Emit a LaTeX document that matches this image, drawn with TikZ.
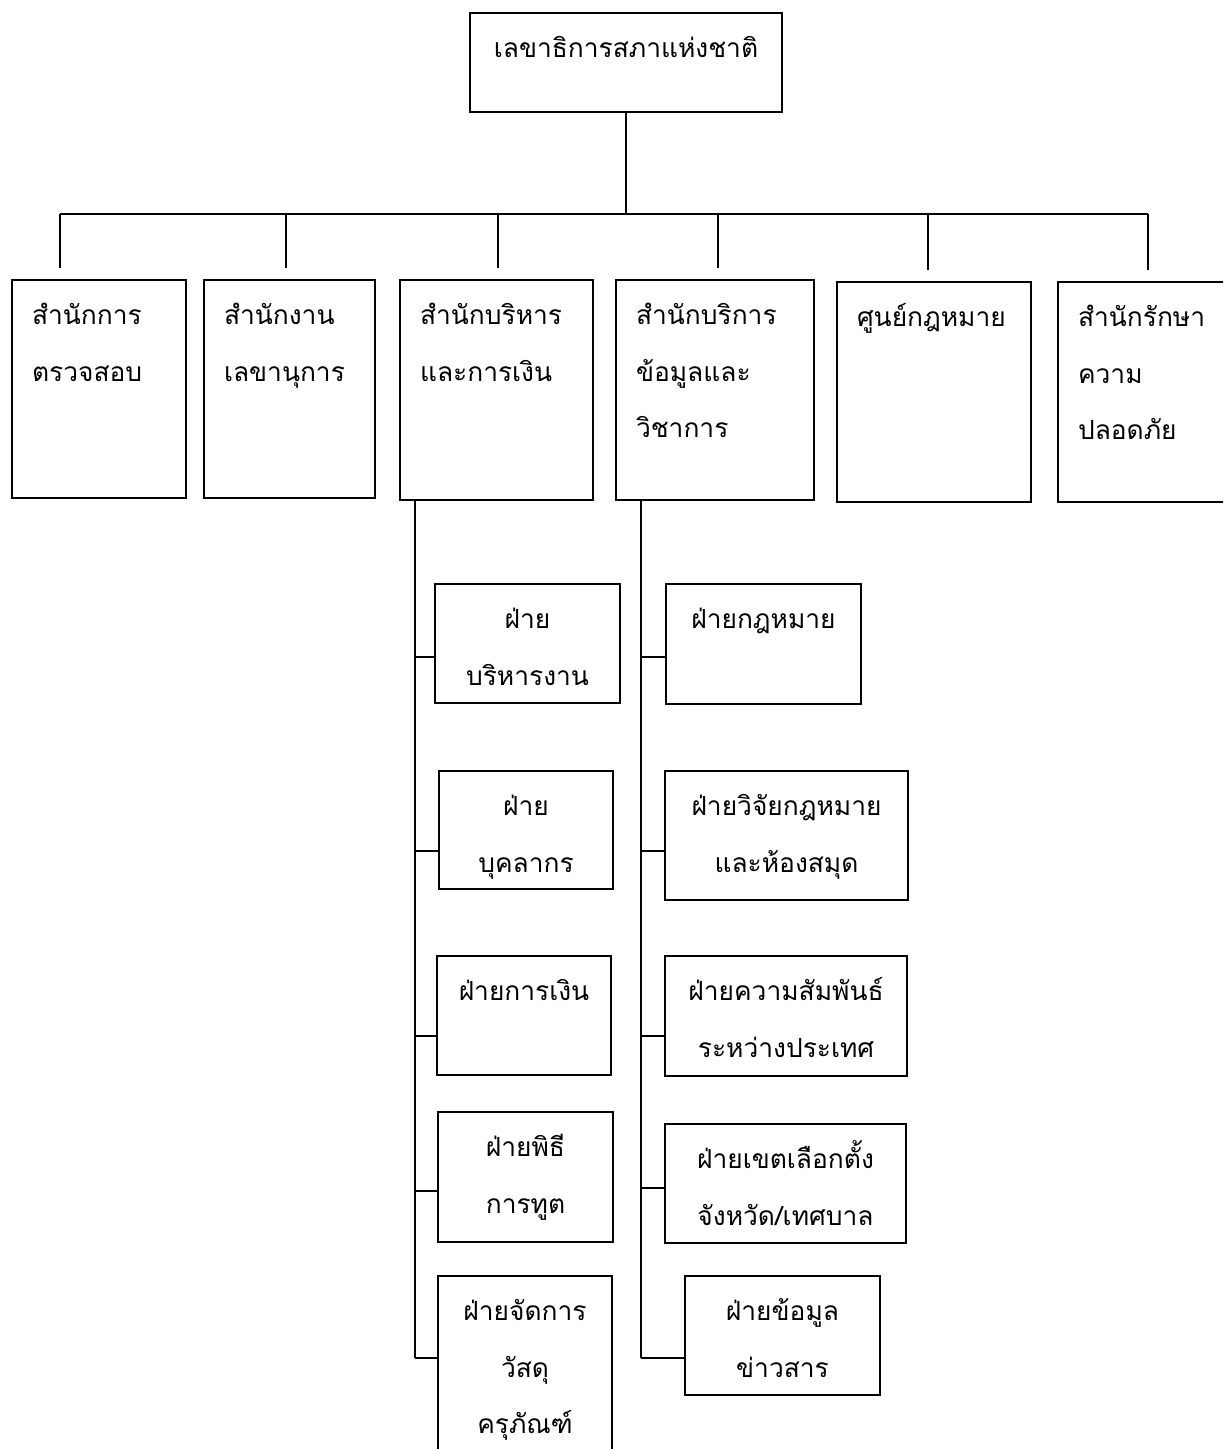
\documentclass[tikz,border=0pt]{standalone}
\usepackage{fontspec}
\usepackage{tikz}
\usetikzlibrary{fit}
\newfontfamily\thaifont[Script=Thai]{Loma}
\newcommand\office[4]{\node[obox,fit={#2 #3}] (#1) {}; \node[olabel] at ([shift={(20,46)}]#1.north west) {\begin{tabular}[t]{@{}l@{}}#4\end{tabular}};}
\newcommand\branch[4]{\node[obox,fit={#2 #3}] (#1) {}; \node[blabel] at ([shift={(0,46)}]#1.north) {\begin{tabular}[t]{@{}c@{}}#4\end{tabular}};}

\begin{document}
\begin{tikzpicture}[x=0.02cm,y=-0.02cm,line width=1.2pt,font=\thaifont\fontsize{15}{32}\selectfont]
\tikzstyle{obox}=[draw,inner sep=0pt]
\tikzstyle{olabel}=[anchor=base west,inner sep=0pt]
\tikzstyle{blabel}=[anchor=base,inner sep=0pt]
\clip (0,0) rectangle (1223,1449);

\branch{head}{(470,13)}{(782,112)}{เลขาธิการสภาแห่งชาติ}

\office{audit}{(12,280)}{(186,498)}{สำนักการ\\ตรวจสอบ}
\office{secretariat}{(204,280)}{(375,498)}{สำนักงาน\\เลขานุการ}
\office{admin}{(400,280)}{(593,500)}{สำนักบริหาร\\และการเงิน}
\office{infoserv}{(616,280)}{(814,500)}{สำนักบริการ\\ข้อมูลและ\\วิชาการ}
\office{lawcentre}{(837,282)}{(1031,502)}{ศูนย์กฎหมาย}
\office{security}{(1058,282)}{(1240,502)}{สำนักรักษา\\ความ\\ปลอดภัย}

\branch{admwork}{(435,584)}{(620,703)}{ฝ่าย\\บริหารงาน}
\branch{personnel}{(439,771)}{(613,889)}{ฝ่าย\\บุคลากร}
\branch{finance}{(437,956)}{(611,1075)}{ฝ่ายการเงิน}
\branch{protocol}{(438,1112)}{(613,1242)}{ฝ่ายพิธี\\การทูต}
\branch{supplies}{(438,1276)}{(612,1470)}{ฝ่ายจัดการ\\วัสดุ\\ครุภัณฑ์}

\branch{law}{(666,584)}{(861,704)}{ฝ่ายกฎหมาย}
\branch{research}{(665,771)}{(908,900)}{ฝ่ายวิจัยกฎหมาย\\และห้องสมุด}
\branch{intl}{(665,956)}{(907,1076)}{ฝ่ายความสัมพันธ์\\ระหว่างประเทศ}
\branch{electoral}{(665,1124)}{(906,1243)}{ฝ่ายเขตเลือกตั้ง\\จังหวัด/เทศบาล}
\branch{news}{(685,1276)}{(880,1395)}{ฝ่ายข้อมูล\\ข่าวสาร}

%% connections

\coordinate (busw) at (60,214);
\coordinate (buse) at (1148,214);
\draw (head.south) -- (head.south |- busw);
\draw (busw) -- (buse);
\foreach \x/\n in {60/audit,286/secretariat,498/admin,718/infoserv,928/lawcentre,1148/security}
  \draw[shorten >=0.22cm] (\x,214) -- (\x,0 |- \n.north);

\coordinate (lspine) at (admin.south west -| 415,0);
\coordinate (rspine) at (infoserv.south west -| 641,0);
\draw (lspine) -- (lspine |- 0,1358);
\draw (rspine) -- (rspine |- 0,1358);
\foreach \n/\y in {admwork/657,personnel/851,finance/1036,protocol/1191,supplies/1358}
  \draw (415,\y) -- (\n.west |- 0,\y);
\foreach \n/\y in {law/657,research/851,intl/1036,electoral/1188,news/1358}
  \draw (641,\y) -- (\n.west |- 0,\y);
\end{tikzpicture}
\end{document}
